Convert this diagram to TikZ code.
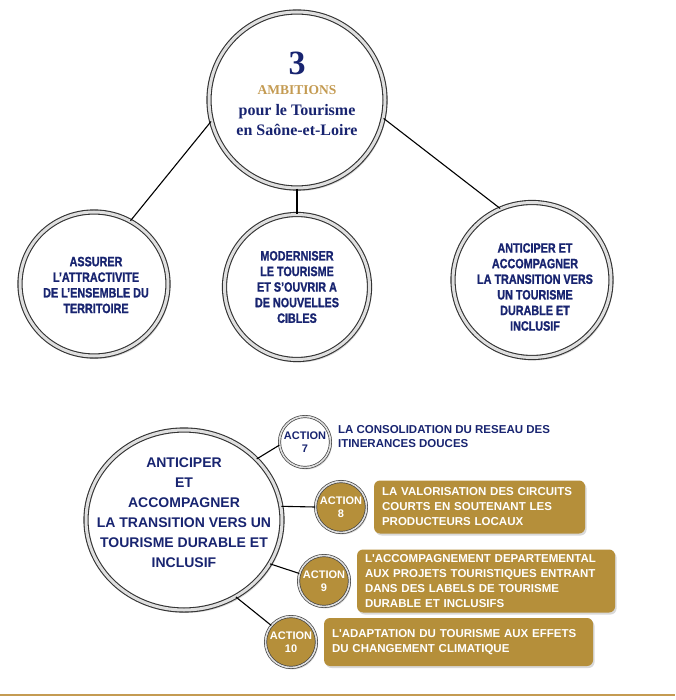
\documentclass[tikz,border=0pt]{standalone}
\usepackage{fontspec}
\setmainfont{Liberation Sans}
\newfontfamily\titlefont{Liberation Serif}
\newfontfamily\narrowfont[FakeStretch=0.8, FakeBold=1.2]{Liberation Sans Bold}
\usepackage{xcolor}
\usepackage{tikz}
\usetikzlibrary{shapes.geometric, positioning, shadows}

\definecolor{navy}{RGB}{24,36,112}
\definecolor{gold}{RGB}{181,143,58}
\definecolor{softgold}{RGB}{196,155,82}

\tikzset{
  ring/.style={ellipse, draw=black!80, line width=1.1pt, double=gray!25, double distance=3pt,
    fill=white, inner sep=0pt,
    drop shadow={shadow xshift=2pt, shadow yshift=-3pt, opacity=0.3}},
  ringtext/.style={inner sep=0pt, align=center, text=navy},
  ambitiontext/.style={ringtext, font=\narrowfont\fontsize{13.5}{15.6}\selectfont},
  action/.style={circle, draw=black!75, line width=0.7pt, double=gray!25, double distance=1.6pt,
    minimum size=51pt, inner sep=0pt, align=center, font=\bfseries\fontsize{11}{13.5}\selectfont,
    drop shadow={shadow xshift=1.5pt, shadow yshift=-2pt, opacity=0.3}},
  goldaction/.style={action, fill=gold, text=white},
  whiteaction/.style={action, fill=white, text=navy},
  actionbox/.style={rectangle, rounded corners=6pt, fill=gold, text=white, align=left,
    inner xsep=8pt, inner ysep=3pt, font=\bfseries\fontsize{11.5}{15}\selectfont,
    drop shadow={shadow xshift=1.5pt, shadow yshift=-2pt, opacity=0.3}},
  link/.style={draw=black, line width=1.1pt}
}

\begin{document}
\begin{tikzpicture}[x=1pt, y=-1pt, node distance=7pt]
  \useasboundingbox (0,0) rectangle (675,700);

  % top of the tree
  \node (Ambitions) [ring, minimum width=176pt, minimum height=176pt] at (297,100) {};
  \node (AmbitionsText) [ringtext, font=\titlefont\bfseries\fontsize{16}{19.5}\selectfont] at (297,94)
      {{\fontsize{34}{34}\selectfont 3}\\
       {\fontsize{13.5}{16}\selectfont\color{softgold}AMBITIONS}\\[2pt]
       pour le Tourisme\\
       en Saône-et-Loire};

  % the three ambitions
  \node (Attract) [ring, minimum width=148pt, minimum height=144pt] at (94,284) {};
  \node (Modern) [ring, minimum width=145pt, minimum height=145pt] at (297,287) {};
  \node (Transition) [ring, minimum width=158pt, minimum height=155pt] at (532,280) {};
  \node (AttractText) [ambitiontext] at (96,285)
      {ASSURER\\L’ATTRACTIVITE\\DE L’ENSEMBLE DU\\TERRITOIRE};
  \node (ModernText) [ambitiontext] at (297,287)
      {MODERNISER\\LE TOURISME\\ET S’OUVRIR A\\DE NOUVELLES\\CIBLES};
  \node (TransitionText) [ambitiontext] at (535,287)
      {ANTICIPER ET\\ACCOMPAGNER\\LA TRANSITION VERS\\UN TOURISME\\DURABLE ET\\INCLUSIF};

  \draw[link] (Ambitions.194) -- (Attract.60);
  \draw[link] (Ambitions.south) -- (Modern.north);
  \draw[link] (Ambitions.348) -- (Transition.114);

  % detail of the third ambition
  \node (BigTransition) [ring, minimum width=196pt, minimum height=180pt] at (184,520) {};
  \node (BigTransitionText) [ringtext, font=\bfseries\fontsize{14}{20}\selectfont] at (184,513)
      {ANTICIPER\\ET\\ACCOMPAGNER\\LA TRANSITION VERS UN\\TOURISME DURABLE ET\\INCLUSIF};

  \node (Act7) [whiteaction] at (305,442) {ACTION\\7};
  \node (Act8) [goldaction] at (341,507) {ACTION\\8};
  \node (Act9) [goldaction] at (324,581) {ACTION\\9};
  \node (Act10) [goldaction] at (291,642) {ACTION\\10};

  \node (Text7) [right=of Act7, yshift=5pt, inner sep=0pt, align=left, text=navy,
      font=\bfseries\fontsize{11.5}{14}\selectfont]
      {LA CONSOLIDATION DU RESEAU DES\\ITINERANCES DOUCES};
  \node (Box8) [actionbox, right=of Act8, text width=195pt, minimum height=53pt]
      {LA VALORISATION DES CIRCUITS\\COURTS EN SOUTENANT LES\\PRODUCTEURS LOCAUX};
  \node (Box9) [actionbox, right=of Act9, text width=242pt, minimum height=63pt]
      {L\textquotesingle ACCOMPAGNEMENT DEPARTEMENTAL\\AUX PROJETS TOURISTIQUES ENTRANT\\DANS DES LABELS DE TOURISME\\DURABLE ET INCLUSIFS};
  \node (Box10) [actionbox, right=of Act10, text width=253pt, minimum height=48pt]
      {L\textquotesingle ADAPTATION DU TOURISME AUX EFFETS\\DU CHANGEMENT CLIMATIQUE};

  \draw[link] (BigTransition.40) -- (Act7.187);
  \draw[link] (BigTransition.8) -- (Act8.west);
  \draw[link] (BigTransition.-27) -- (Act9.163);
  \draw[link] (BigTransition.-56) -- (Act10.140);

  \draw[softgold, line width=1.5pt] (0,695) -- (675,695);
\end{tikzpicture}
\end{document}
